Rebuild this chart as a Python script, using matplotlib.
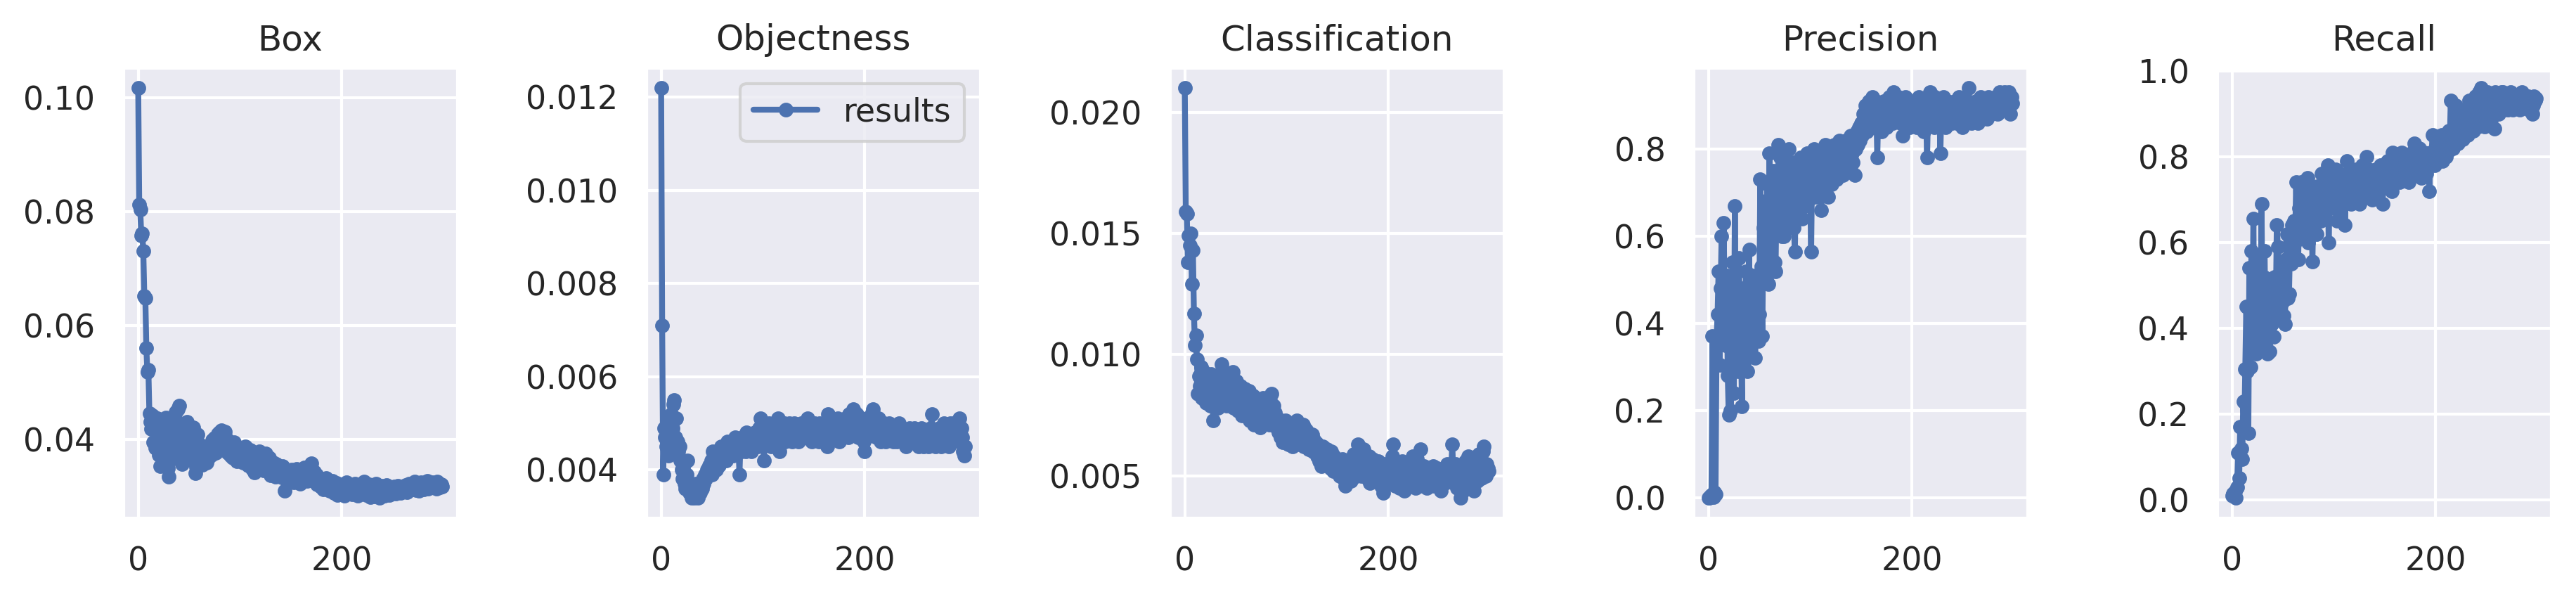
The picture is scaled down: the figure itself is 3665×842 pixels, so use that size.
import numpy as np
import matplotlib
matplotlib.use("Agg")
import matplotlib.pyplot as plt
import seaborn as sns

sns.set_theme()
plt.rcParams['font.family'] = ['DejaVu Sans']

titles = ["Box", "Objectness", "Classification", "Precision", "Recall"]
legend_label = "results"

box = [
    0.1017, 0.0812, 0.0803, 0.0758, 0.0761, 0.0730, 0.0652, 0.0648, 0.0560, 0.0518,
    0.0522, 0.0445, 0.0430, 0.0418, 0.0441, 0.0395, 0.0422, 0.0384, 0.0410, 0.0436,
    0.0372, 0.0405, 0.0352, 0.0428, 0.0390, 0.0361, 0.0412, 0.0438, 0.0375, 0.0349,
    0.0334, 0.0398, 0.0420, 0.0383, 0.0366, 0.0433, 0.0401, 0.0447, 0.0389, 0.0452,
    0.0459, 0.0410, 0.0378, 0.0356, 0.0425, 0.0392, 0.0415, 0.0371, 0.0430, 0.0402,
    0.0386, 0.0418, 0.0364, 0.0395, 0.0421, 0.0377, 0.0340, 0.0351, 0.0408, 0.0383,
    0.0392, 0.0369, 0.0378, 0.0355, 0.0387, 0.0362, 0.0371, 0.0358, 0.0384, 0.0366,
    0.0379, 0.0390, 0.0372, 0.0398, 0.0385, 0.0402, 0.0376, 0.0395, 0.0409, 0.0388,
    0.0412, 0.0397, 0.0416, 0.0405, 0.0391, 0.0413, 0.0384, 0.0399, 0.0376, 0.0392,
    0.0380, 0.0371, 0.0389, 0.0367, 0.0395, 0.0374, 0.0382, 0.0361, 0.0386, 0.0370,
    0.0378, 0.0365, 0.0383, 0.0358, 0.0372, 0.0387, 0.0362, 0.0375, 0.0354, 0.0369,
    0.0381, 0.0359, 0.0347, 0.0366, 0.0341, 0.0373, 0.0356, 0.0362, 0.0349, 0.0378,
    0.0364, 0.0352, 0.0370, 0.0345, 0.0358, 0.0375, 0.0348, 0.0361, 0.0344, 0.0367,
    0.0336, 0.0352, 0.0343, 0.0359, 0.0347, 0.0334, 0.0356, 0.0341, 0.0350, 0.0338,
    0.0346, 0.0333, 0.0352, 0.0339, 0.0309, 0.0331, 0.0344, 0.0327, 0.0340, 0.0335,
    0.0329, 0.0346, 0.0337, 0.0324, 0.0341, 0.0333, 0.0348, 0.0330, 0.0339, 0.0322,
    0.0336, 0.0344, 0.0328, 0.0350, 0.0334, 0.0341, 0.0326, 0.0345, 0.0352, 0.0338,
    0.0357, 0.0340, 0.0331, 0.0343, 0.0325, 0.0337, 0.0320, 0.0333, 0.0328, 0.0316,
    0.0330, 0.0322, 0.0312, 0.0327, 0.0318, 0.0331, 0.0315, 0.0324, 0.0309, 0.0321,
    0.0313, 0.0326, 0.0305, 0.0319, 0.0311, 0.0323, 0.0302, 0.0317, 0.0310, 0.0304,
    0.0320, 0.0308, 0.0315, 0.0301, 0.0312, 0.0324, 0.0306, 0.0318, 0.0309, 0.0314,
    0.0303, 0.0317, 0.0310, 0.0322, 0.0307, 0.0313, 0.0300, 0.0316, 0.0311, 0.0305,
    0.0319, 0.0308, 0.0325, 0.0312, 0.0302, 0.0315, 0.0309, 0.0320, 0.0298, 0.0311,
    0.0304, 0.0316, 0.0299, 0.0310, 0.0321, 0.0303, 0.0313, 0.0297, 0.0308, 0.0318,
    0.0306, 0.0314, 0.0300, 0.0311, 0.0319, 0.0305, 0.0312, 0.0302, 0.0315, 0.0309,
    0.0313, 0.0307, 0.0316, 0.0304, 0.0311, 0.0318, 0.0308, 0.0314, 0.0305, 0.0312,
    0.0309, 0.0316, 0.0311, 0.0319, 0.0307, 0.0314, 0.0321, 0.0310, 0.0317, 0.0312,
    0.0320, 0.0313, 0.0325, 0.0311, 0.0318, 0.0322, 0.0309, 0.0316, 0.0324, 0.0314,
    0.0319, 0.0312, 0.0323, 0.0317, 0.0326, 0.0313, 0.0321, 0.0318, 0.0315, 0.0324,
    0.0316, 0.0322, 0.0319, 0.0313, 0.0325, 0.0318, 0.0321, 0.0315, 0.0320, 0.0317,
]

objectness = [
    0.0122, 0.0071, 0.0039, 0.0049, 0.0047, 0.0045, 0.0050, 0.0043, 0.0048, 0.0046,
    0.0052, 0.0049, 0.0054, 0.0055, 0.0047, 0.0051, 0.0046, 0.0044, 0.0045, 0.0042,
    0.0040, 0.0038, 0.0041, 0.0037, 0.0036, 0.0039, 0.0042, 0.0036, 0.0035, 0.0037,
    0.0034, 0.0036, 0.0035, 0.0034, 0.0037, 0.0035, 0.0034, 0.0036, 0.0035, 0.0037,
    0.0036, 0.0038, 0.0037, 0.0039, 0.0038, 0.0040, 0.0039, 0.0041, 0.0040, 0.0042,
    0.0039, 0.0044, 0.0041, 0.0043, 0.0040, 0.0042, 0.0044, 0.0041, 0.0043, 0.0045,
    0.0042, 0.0044, 0.0043, 0.0045, 0.0042, 0.0046, 0.0044, 0.0043, 0.0045, 0.0044,
    0.0046, 0.0043, 0.0045, 0.0047, 0.0044, 0.0046, 0.0045, 0.0039, 0.0046, 0.0044,
    0.0047, 0.0045, 0.0046, 0.0044, 0.0048, 0.0046, 0.0045, 0.0047, 0.0046, 0.0044,
    0.0047, 0.0045, 0.0048, 0.0046, 0.0047, 0.0045, 0.0049, 0.0046, 0.0051, 0.0047,
    0.0048, 0.0042, 0.0047, 0.0049, 0.0046, 0.0048, 0.0050, 0.0047, 0.0045, 0.0049,
    0.0047, 0.0050, 0.0048, 0.0046, 0.0049, 0.0051, 0.0044, 0.0048, 0.0047, 0.0049,
    0.0048, 0.0050, 0.0046, 0.0049, 0.0047, 0.0048, 0.0050, 0.0047, 0.0049, 0.0046,
    0.0048, 0.0050, 0.0047, 0.0049, 0.0048, 0.0046, 0.0049, 0.0047, 0.0050, 0.0048,
    0.0047, 0.0049, 0.0048, 0.0050, 0.0051, 0.0047, 0.0049, 0.0048, 0.0046, 0.0049,
    0.0048, 0.0050, 0.0047, 0.0049, 0.0048, 0.0046, 0.0050, 0.0048, 0.0049, 0.0047,
    0.0049, 0.0048, 0.0050, 0.0045, 0.0052, 0.0048, 0.0047, 0.0049, 0.0051, 0.0048,
    0.0050, 0.0047, 0.0049, 0.0048, 0.0051, 0.0046, 0.0049, 0.0050, 0.0048, 0.0047,
    0.0049, 0.0051, 0.0048, 0.0050, 0.0047, 0.0052, 0.0049, 0.0048, 0.0051, 0.0053,
    0.0050, 0.0048, 0.0052, 0.0049, 0.0047, 0.0050, 0.0048, 0.0051, 0.0049, 0.0046,
    0.0044, 0.0049, 0.0047, 0.0050, 0.0048, 0.0051, 0.0049, 0.0052, 0.0053, 0.0050,
    0.0048, 0.0050, 0.0047, 0.0049, 0.0051, 0.0048, 0.0046, 0.0049, 0.0047, 0.0050,
    0.0048, 0.0046, 0.0049, 0.0047, 0.0050, 0.0048, 0.0047, 0.0049, 0.0046, 0.0048,
    0.0047, 0.0049, 0.0046, 0.0048, 0.0050, 0.0047, 0.0049, 0.0048, 0.0046, 0.0048,
    0.0047, 0.0045, 0.0048, 0.0046, 0.0049, 0.0047, 0.0048, 0.0046, 0.0047, 0.0049,
    0.0046, 0.0048, 0.0047, 0.0045, 0.0048, 0.0046, 0.0049, 0.0047, 0.0045, 0.0048,
    0.0047, 0.0046, 0.0048, 0.0045, 0.0047, 0.0049, 0.0052, 0.0048, 0.0046, 0.0047,
    0.0045, 0.0048, 0.0046, 0.0049, 0.0047, 0.0045, 0.0048, 0.0046, 0.0050, 0.0047,
    0.0049, 0.0046, 0.0048, 0.0045, 0.0050, 0.0047, 0.0049, 0.0046, 0.0050, 0.0048,
    0.0047, 0.0050, 0.0048, 0.0051, 0.0046, 0.0049, 0.0047, 0.0044, 0.0043, 0.0045,
]

classification = [
    0.0210, 0.0159, 0.0158, 0.0138, 0.0149, 0.0145, 0.0150, 0.0129, 0.0143, 0.0117,
    0.0104, 0.0108, 0.0098, 0.0084, 0.0091, 0.0087, 0.0095, 0.0082, 0.0089, 0.0093,
    0.0086, 0.0080, 0.0090, 0.0083, 0.0088, 0.0079, 0.0092, 0.0085, 0.0073, 0.0081,
    0.0087, 0.0083, 0.0090, 0.0078, 0.0086, 0.0092, 0.0096, 0.0084, 0.0089, 0.0081,
    0.0087, 0.0079, 0.0085, 0.0091, 0.0080, 0.0088, 0.0083, 0.0093, 0.0078, 0.0086,
    0.0082, 0.0089, 0.0077, 0.0084, 0.0080, 0.0087, 0.0075, 0.0083, 0.0079, 0.0086,
    0.0076, 0.0082, 0.0078, 0.0085, 0.0073, 0.0080, 0.0077, 0.0083, 0.0071, 0.0079,
    0.0075, 0.0081, 0.0074, 0.0078, 0.0070, 0.0079, 0.0076, 0.0082, 0.0073, 0.0077,
    0.0080, 0.0074, 0.0078, 0.0071, 0.0081, 0.0084, 0.0075, 0.0079, 0.0072, 0.0076,
    0.0070, 0.0074, 0.0068, 0.0072, 0.0066, 0.0071, 0.0064, 0.0069, 0.0067, 0.0073,
    0.0065, 0.0070, 0.0063, 0.0068, 0.0066, 0.0071, 0.0062, 0.0067, 0.0069, 0.0064,
    0.0073, 0.0066, 0.0070, 0.0063, 0.0068, 0.0065, 0.0071, 0.0062, 0.0067, 0.0069,
    0.0064, 0.0068, 0.0061, 0.0066, 0.0063, 0.0067, 0.0060, 0.0065, 0.0062, 0.0064,
    0.0058, 0.0063, 0.0056, 0.0061, 0.0054, 0.0059, 0.0062, 0.0055, 0.0060, 0.0057,
    0.0061, 0.0055, 0.0058, 0.0053, 0.0060, 0.0056, 0.0052, 0.0058, 0.0054, 0.0057,
    0.0053, 0.0056, 0.0050, 0.0055, 0.0052, 0.0057, 0.0049, 0.0054, 0.0046, 0.0052,
    0.0055, 0.0050, 0.0053, 0.0048, 0.0056, 0.0051, 0.0059, 0.0053, 0.0057, 0.0050,
    0.0063, 0.0055, 0.0052, 0.0058, 0.0050, 0.0054, 0.0061, 0.0051, 0.0056, 0.0049,
    0.0053, 0.0058, 0.0047, 0.0055, 0.0050, 0.0057, 0.0052, 0.0048, 0.0054, 0.0051,
    0.0056, 0.0049, 0.0053, 0.0046, 0.0051, 0.0043, 0.0055, 0.0048, 0.0052, 0.0050,
    0.0054, 0.0047, 0.0052, 0.0049, 0.0058, 0.0063, 0.0051, 0.0046, 0.0053, 0.0049,
    0.0055, 0.0045, 0.0051, 0.0048, 0.0056, 0.0050, 0.0044, 0.0053, 0.0047, 0.0052,
    0.0049, 0.0054, 0.0046, 0.0051, 0.0058, 0.0048, 0.0053, 0.0045, 0.0057, 0.0050,
    0.0055, 0.0048, 0.0061, 0.0052, 0.0046, 0.0054, 0.0049, 0.0051, 0.0045, 0.0053,
    0.0050, 0.0047, 0.0052, 0.0048, 0.0054, 0.0046, 0.0051, 0.0049, 0.0053, 0.0047,
    0.0050, 0.0046, 0.0044, 0.0051, 0.0048, 0.0053, 0.0047, 0.0050, 0.0055, 0.0049,
    0.0052, 0.0048, 0.0054, 0.0063, 0.0050, 0.0047, 0.0055, 0.0049, 0.0045, 0.0052,
    0.0046, 0.0041, 0.0048, 0.0053, 0.0044, 0.0050, 0.0056, 0.0047, 0.0052, 0.0058,
    0.0049, 0.0054, 0.0046, 0.0051, 0.0044, 0.0057, 0.0050, 0.0055, 0.0048, 0.0059,
    0.0052, 0.0056, 0.0049, 0.0060, 0.0062, 0.0054, 0.0050, 0.0055, 0.0053, 0.0052,
]

precision = [
    0.000, 0.000, 0.004, 0.006, 0.370, 0.002, 0.012, 0.008, 0.365, 0.420,
    0.520, 0.305, 0.480, 0.600, 0.390, 0.630, 0.440, 0.350, 0.510, 0.280,
    0.190, 0.460, 0.200, 0.380, 0.540, 0.240, 0.670, 0.330, 0.450, 0.290,
    0.550, 0.410, 0.360, 0.210, 0.480, 0.310, 0.420, 0.520, 0.290, 0.390,
    0.570, 0.340, 0.460, 0.400, 0.510, 0.370, 0.320, 0.440, 0.490, 0.360,
    0.420, 0.730, 0.530, 0.370, 0.620, 0.580, 0.680, 0.500, 0.720, 0.490,
    0.790, 0.560, 0.690, 0.610, 0.750, 0.540, 0.520, 0.700, 0.640, 0.810,
    0.660, 0.780, 0.600, 0.720, 0.600, 0.690, 0.760, 0.630, 0.710, 0.800,
    0.650, 0.740, 0.680, 0.770, 0.620, 0.565, 0.700, 0.750, 0.660, 0.730,
    0.690, 0.780, 0.640, 0.720, 0.760, 0.670, 0.710, 0.790, 0.680, 0.740,
    0.700, 0.565, 0.770, 0.720, 0.800, 0.690, 0.750, 0.730, 0.780, 0.710,
    0.760, 0.660, 0.790, 0.740, 0.700, 0.810, 0.730, 0.770, 0.690, 0.750,
    0.800, 0.720, 0.780, 0.740, 0.810, 0.760, 0.730, 0.790, 0.750, 0.820,
    0.770, 0.800, 0.740, 0.790, 0.760, 0.820, 0.780, 0.810, 0.750, 0.800,
    0.830, 0.790, 0.770, 0.820, 0.740, 0.800, 0.840, 0.810, 0.850, 0.820,
    0.860, 0.830, 0.880, 0.850, 0.900, 0.870, 0.840, 0.890, 0.910, 0.860,
    0.880, 0.920, 0.850, 0.900, 0.870, 0.910, 0.780, 0.890, 0.860, 0.900,
    0.840, 0.880, 0.910, 0.860, 0.890, 0.850, 0.900, 0.870, 0.920, 0.880,
    0.900, 0.860, 0.930, 0.890, 0.870, 0.910, 0.880, 0.920, 0.900, 0.860,
    0.890, 0.830, 0.910, 0.880, 0.920, 0.900, 0.870, 0.910, 0.850, 0.890,
    0.870, 0.900, 0.860, 0.890, 0.910, 0.850, 0.880, 0.920, 0.870, 0.900,
    0.860, 0.890, 0.840, 0.910, 0.870, 0.780, 0.900, 0.880, 0.930, 0.860,
    0.910, 0.890, 0.850, 0.920, 0.880, 0.900, 0.860, 0.910, 0.790, 0.890,
    0.870, 0.920, 0.900, 0.850, 0.890, 0.910, 0.870, 0.900, 0.880, 0.860,
    0.900, 0.870, 0.910, 0.880, 0.860, 0.890, 0.920, 0.870, 0.900, 0.880,
    0.850, 0.890, 0.870, 0.910, 0.880, 0.900, 0.940, 0.870, 0.890, 0.860,
    0.880, 0.900, 0.870, 0.910, 0.890, 0.860, 0.900, 0.880, 0.920, 0.870,
    0.890, 0.910, 0.880, 0.900, 0.870, 0.920, 0.890, 0.910, 0.880, 0.900,
    0.910, 0.890, 0.920, 0.900, 0.880, 0.910, 0.930, 0.890, 0.920, 0.900,
    0.910, 0.930, 0.900, 0.920, 0.890, 0.930, 0.910, 0.880, 0.920, 0.905,
]

recall = [
    0.010, 0.015, 0.008, 0.020, 0.005, 0.030, 0.110, 0.050, 0.170, 0.120,
    0.095, 0.230, 0.160, 0.305, 0.450, 0.300, 0.155, 0.540, 0.310, 0.580,
    0.420, 0.655, 0.360, 0.500, 0.340, 0.460, 0.560, 0.380, 0.440, 0.690,
    0.400, 0.520, 0.580, 0.360, 0.470, 0.340, 0.430, 0.345, 0.500, 0.410,
    0.460, 0.380, 0.520, 0.440, 0.640, 0.590, 0.480, 0.420, 0.540, 0.460,
    0.500, 0.430, 0.410, 0.560, 0.620, 0.470, 0.480, 0.600, 0.550, 0.640,
    0.580, 0.650, 0.600, 0.740, 0.620, 0.560, 0.680, 0.610, 0.740, 0.650,
    0.700, 0.620, 0.680, 0.640, 0.750, 0.600, 0.690, 0.660, 0.720, 0.555,
    0.680, 0.640, 0.710, 0.620, 0.730, 0.670, 0.700, 0.650, 0.760, 0.690,
    0.720, 0.660, 0.740, 0.700, 0.780, 0.600, 0.710, 0.680, 0.750, 0.700,
    0.730, 0.690, 0.770, 0.650, 0.720, 0.700, 0.760, 0.680, 0.740, 0.710,
    0.750, 0.640, 0.730, 0.790, 0.700, 0.760, 0.720, 0.690, 0.750, 0.710,
    0.740, 0.700, 0.770, 0.720, 0.750, 0.690, 0.760, 0.730, 0.780, 0.740,
    0.710, 0.760, 0.800, 0.730, 0.770, 0.740, 0.720, 0.760, 0.700, 0.750,
    0.730, 0.770, 0.740, 0.710, 0.760, 0.720, 0.780, 0.740, 0.690, 0.750,
    0.770, 0.730, 0.760, 0.790, 0.740, 0.780, 0.750, 0.720, 0.810, 0.770,
    0.790, 0.750, 0.780, 0.760, 0.800, 0.740, 0.770, 0.810, 0.760, 0.790,
    0.750, 0.780, 0.800, 0.770, 0.740, 0.790, 0.760, 0.810, 0.780, 0.830,
    0.770, 0.800, 0.760, 0.790, 0.820, 0.780, 0.750, 0.800, 0.770, 0.810,
    0.790, 0.760, 0.800, 0.780, 0.720, 0.810, 0.790, 0.850, 0.800, 0.780,
    0.820, 0.790, 0.840, 0.800, 0.830, 0.810, 0.850, 0.790, 0.830, 0.820,
    0.800, 0.840, 0.810, 0.860, 0.830, 0.930, 0.850, 0.820, 0.870, 0.840,
    0.920, 0.860, 0.830, 0.880, 0.850, 0.900, 0.870, 0.840, 0.890, 0.860,
    0.910, 0.880, 0.850, 0.930, 0.890, 0.870, 0.920, 0.860, 0.900, 0.940,
    0.880, 0.910, 0.870, 0.950, 0.900, 0.960, 0.890, 0.930, 0.870, 0.920,
    0.900, 0.950, 0.880, 0.930, 0.910, 0.890, 0.940, 0.920, 0.865, 0.950,
    0.910, 0.930, 0.900, 0.940, 0.920, 0.950, 0.950, 0.910, 0.930, 0.920,
    0.940, 0.910, 0.930, 0.920, 0.950, 0.930, 0.910, 0.940, 0.920, 0.930,
    0.940, 0.920, 0.930, 0.910, 0.940, 0.950, 0.930, 0.920, 0.940, 0.930,
    0.920, 0.940, 0.910, 0.930, 0.910, 0.900, 0.920, 0.940, 0.930, 0.935,
]

series = [box, objectness, classification, precision, recall]
epochs = np.arange(len(box))

W, H = 3665, 842
fig = plt.figure(figsize=(W / 300, H / 300), dpi=300)
lefts_px = [175, 919, 1664, 2409, 3154]
ax_w = 476 / W
ax_b = 1 - 737 / H
ax_h = (737 - 96) / H

axes = []
for i, (title, ys) in enumerate(zip(titles, series)):
    ax = fig.add_axes([lefts_px[i] / W, ax_b, ax_w, ax_h])
    ax.plot(epochs, ys, marker='.', label=legend_label, linewidth=2, markersize=8,
            color='#4C72B0')
    ax.set_title(title, fontsize=12)
    ax.set_xticks([0, 200])
    ax.tick_params(labelsize=11)
    axes.append(ax)

axes[1].legend(loc='upper right', fontsize=11)

fig.savefig("out.png", dpi=300)
